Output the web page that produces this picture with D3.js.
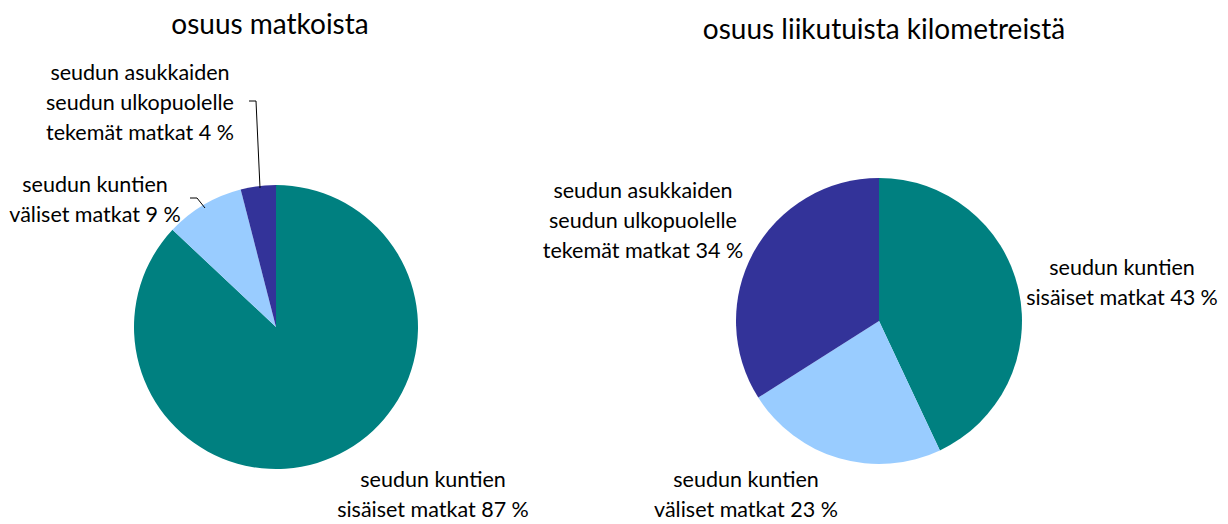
<!DOCTYPE html>
<html>
<head>
<meta charset="utf-8">
<script src="https://cdn.jsdelivr.net/npm/d3@7"></script>
<style>
  body { margin: 0; background: #fff; }
  text { font-family: Lato, 'Open Sans', sans-serif; fill: #000; }
</style>
</head>
<body>
<div id="chart"></div>
<script>
const width = 1228
const height = 524

// data
const categories = ['sisäiset', 'väliset', 'ulkopuolelle']
const tripShares = [87, 9, 4]
const kmShares = [43, 23, 34]
const titles = ['osuus matkoista', 'osuus liikutuista kilometreistä']
const colors = ['#008080', '#99ccff', '#333399']

const labelText = (cat, v) => {
  if (cat === 'sisäiset') return ['seudun kuntien', 'sisäiset matkat ' + v + ' %']
  if (cat === 'väliset') return ['seudun kuntien', 'väliset matkat ' + v + ' %']
  return ['seudun asukkaiden', 'seudun ulkopuolelle', 'tekemät matkat ' + v + ' %']
}

const svg = d3.select('#chart').append('svg')
  .attr('width', width)
  .attr('height', height)

const color = d3.scaleOrdinal().domain(categories).range(colors)
const pie = d3.pie().sort(null).value(d => d.value)

const charts = [
  {
    title: titles[0], values: tripShares, cx: 276, cy: 327, r: 142, tx: 270, ty: 34,
    labels: [[433, 487], [95, 192], [140, 80]],
    leaders: [null, [[190, 198], [197, 198], [205, 208]], [[249, 101], [256, 101], [260, 188]]]
  },
  {
    title: titles[1], values: kmShares, cx: 879, cy: 321, r: 143, tx: 884, ty: 39,
    labels: [[1122, 275], [746, 487], [643, 198]],
    leaders: [null, null, null]
  }
]

charts.forEach(c => {
  const g = svg.append('g')
  const data = categories.map((cat, i) => ({ cat, value: c.values[i] }))
  const arc = d3.arc().innerRadius(0).outerRadius(c.r)

  g.append('text')
    .attr('x', c.tx)
    .attr('y', c.ty)
    .attr('text-anchor', 'middle')
    .style('font-size', '28px')
    .text(c.title)

  g.append('g')
    .attr('transform', `translate(${c.cx},${c.cy})`)
    .selectAll('path')
    .data(pie(data))
    .join('path')
    .attr('d', arc)
    .attr('fill', d => color(d.data.cat))

  data.forEach((d, i) => {
    const lines = labelText(d.cat, d.value)
    const [lx, ly] = c.labels[i]
    const t = g.append('text')
      .attr('text-anchor', 'middle')
      .style('font-size', '21.5px')
    lines.forEach((l, k) => {
      t.append('tspan').attr('x', lx).attr('y', ly + k * 30).text(l)
    })
    if (c.leaders[i]) {
      g.append('path')
        .attr('d', d3.line()(c.leaders[i]))
        .attr('fill', 'none')
        .attr('stroke', '#000')
        .attr('stroke-width', 1)
    }
  })
})
</script>
</body>
</html>
